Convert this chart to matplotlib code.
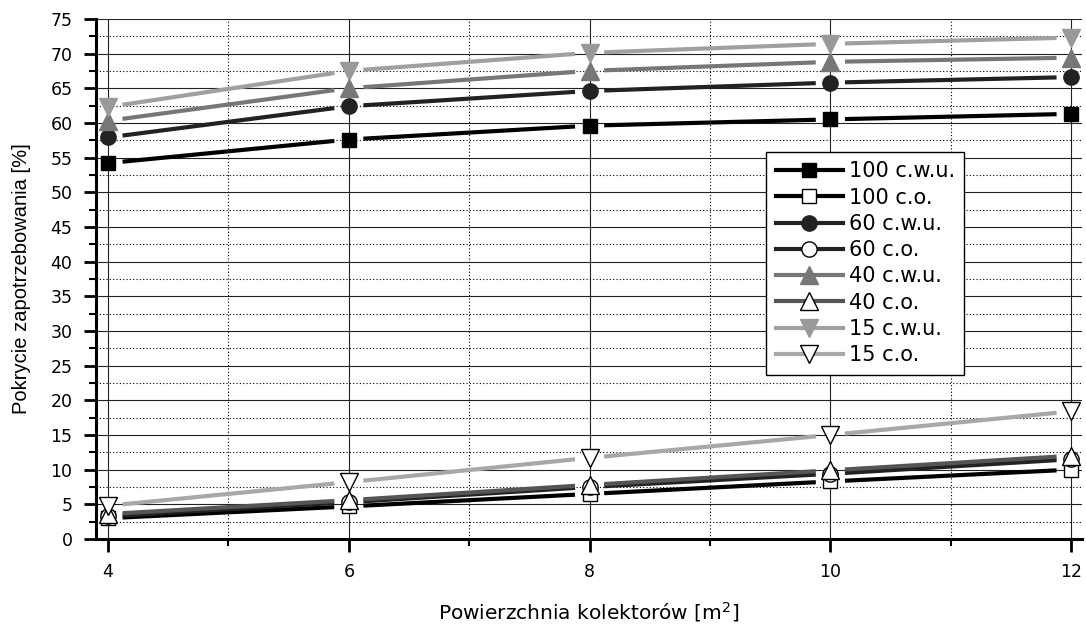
import numpy as np
import matplotlib
matplotlib.use('Agg')
import matplotlib.pyplot as plt
from matplotlib.lines import Line2D
from matplotlib.patches import FancyArrowPatch
from matplotlib.ticker import MultipleLocator

# powierzchnia kolektorow [m2]
area = [4, 6, 8, 10, 12]

cwu_100 = [54.2, 57.6, 59.6, 60.5, 61.3]
co_100 = [3.0, 4.7, 6.5, 8.3, 10.0]
cwu_60 = [57.9, 62.4, 64.6, 65.8, 66.6]
co_60 = [3.3, 5.3, 7.5, 9.4, 11.5]
cwu_40 = [60.3, 65.0, 67.5, 68.8, 69.4]
co_40 = [3.6, 5.6, 7.8, 9.9, 12.0]
cwu_15 = [62.3, 67.5, 70.1, 71.4, 72.3]
co_15 = [4.8, 8.2, 11.7, 15.0, 18.4]

labels = ['100 c.w.u.', '100 c.o.', '60 c.w.u.', '60 c.o.',
          '40 c.w.u.', '40 c.o.', '15 c.w.u.', '15 c.o.']
series = [cwu_100, co_100, cwu_60, co_60, cwu_40, co_40, cwu_15, co_15]

# style: line colour, marker, face colour, edge colour, marker size
styles = [
    ('#000000', 's', '#000000', '#000000', 10),
    ('#000000', 's', 'white', 'black', 10),
    ('#222222', 'o', '#222222', '#222222', 11),
    ('#222222', 'o', 'white', 'black', 11),
    ('#777777', '^', '#777777', '#777777', 13),
    ('#555555', '^', 'white', 'black', 13),
    ('#a0a0a0', 'v', '#999999', '#999999', 13),
    ('#a8a8a8', 'v', 'white', 'black', 13),
]

plt.rcParams['font.family'] = ['DejaVu Sans']

fig = plt.figure(figsize=(10.86, 6.28), dpi=100)
ax = fig.add_axes([0.0884, 0.1417, 0.9079, 0.8283])

handles = []
for vals, lab, (lc, m, fc, ec, ms) in zip(series, labels, styles):
    # line segments with a small gap around markers (Origin style)
    for i in range(len(area) - 1):
        seg = FancyArrowPatch((area[i], vals[i]), (area[i + 1], vals[i + 1]),
                              arrowstyle='-', lw=3, color=lc,
                              shrinkA=10.5, shrinkB=10.5, capstyle='butt',
                              zorder=3)
        ax.add_patch(seg)
    ax.plot(area, vals, linestyle='none', marker=m, ms=ms, mfc=fc, mec=ec,
            mew=1, zorder=4)
    handles.append(Line2D([], [], color=lc, lw=3, marker=m, ms=ms, mfc=fc,
                          mec=ec, mew=1, label=lab))

ax.set_xlim(3.9, 12.09)
ax.set_ylim(0, 75)
ax.xaxis.set_major_locator(MultipleLocator(2))
ax.xaxis.set_minor_locator(MultipleLocator(1))
ax.yaxis.set_major_locator(MultipleLocator(5))
ax.yaxis.set_minor_locator(MultipleLocator(2.5))

ax.grid(which='major', color='#222222', lw=0.8, linestyle='-', zorder=0)
ax.grid(which='minor', color='black', lw=0.8, linestyle=(0, (1, 2)), zorder=0)
ax.set_axisbelow(True)

for s in ['top', 'right']:
    ax.spines[s].set_visible(False)
for s in ['left', 'bottom']:
    ax.spines[s].set_linewidth(2.2)

ax.tick_params(which='major', direction='out', length=9, width=2,
               labelsize=12.5, pad=8)
ax.tick_params(which='minor', direction='out', length=5, width=1.5)

ax.set_ylabel('Pokrycie zapotrzebowania [%]', fontsize=14.5,
              family='Liberation Sans', labelpad=14)
ax.set_xlabel('Powierzchnia kolektorów [m$^2$]', fontsize=14.5, labelpad=14)

leg = ax.legend(handles=handles, loc='upper left', bbox_to_anchor=(0.68, 0.744),
                borderaxespad=0, fontsize=15, handlelength=3.2,
                labelspacing=0.3, handletextpad=0.3, borderpad=0.45,
                fancybox=False, framealpha=1, edgecolor='black')
leg.get_frame().set_linewidth(1)

fig.savefig('out.png', dpi=100)
